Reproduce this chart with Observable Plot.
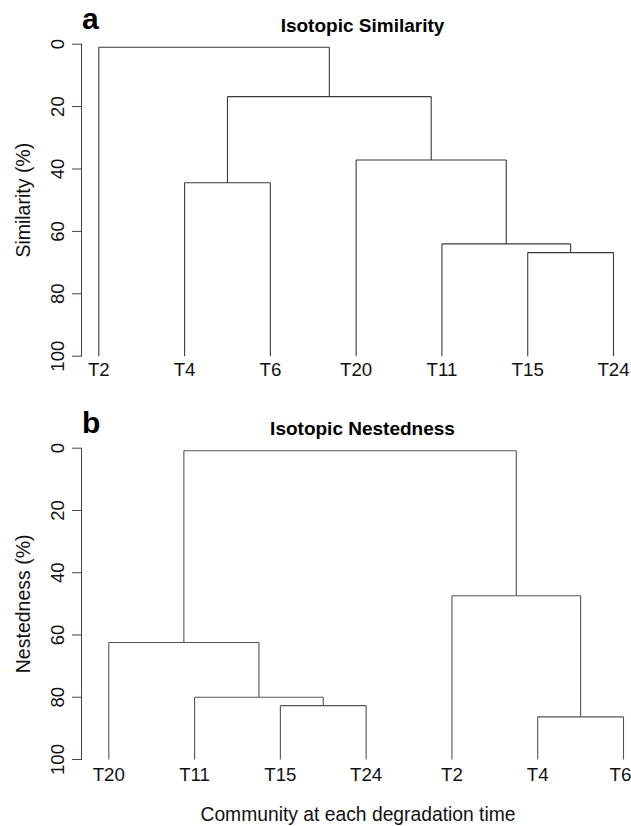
<!DOCTYPE html>
<html>
<head>
<meta charset="utf-8">
<script src="https://cdn.jsdelivr.net/npm/d3@7"></script>
<script src="https://cdn.jsdelivr.net/npm/@observablehq/plot@0.6"></script>
<style>
  html, body { margin: 0; padding: 0; background: #fff; }
  #chart { width: 631px; }
  #chart svg { display: block; }
</style>
</head>
<body>
<div id="chart"></div>
<script>
// ---- Data ----
const yTicks = [0, 20, 40, 60, 80, 100];

// Panel a: Isotopic Similarity
const leavesA = ["T2", "T4", "T6", "T20", "T11", "T15", "T24"];
// merges: [left child, right child, height]; children are leaf names or "m<index>"
const mergesA = [
  ["T15", "T24", 66.8],
  ["T11", "m0", 64.0],
  ["T20", "m1", 37.1],
  ["T4", "T6", 44.4],
  ["m3", "m2", 16.8],
  ["T2", "m4", 1.0]
];

// Panel b: Isotopic Nestedness
const leavesB = ["T20", "T11", "T15", "T24", "T2", "T4", "T6"];
const mergesB = [
  ["T15", "T24", 82.7],
  ["T11", "m0", 80.0],
  ["T20", "m1", 62.4],
  ["T4", "T6", 86.3],
  ["T2", "m3", 47.4],
  ["m2", "m4", 0.8]
];

const leafHeight = 100;

// ---- Build dendrogram segments ----
function segments(leaves, merges) {
  const pos = {};
  leaves.forEach((l, i) => pos[l] = {x: i, h: leafHeight});
  const segs = [];
  merges.forEach(([a, b, h], i) => {
    const A = pos[a], B = pos[b];
    segs.push({x1: A.x, x2: B.x, y1: h, y2: h});
    segs.push({x1: A.x, x2: A.x, y1: h, y2: A.h});
    segs.push({x1: B.x, x2: B.x, y1: h, y2: B.h});
    pos["m" + i] = {x: (A.x + B.x) / 2, h};
  });
  return segs;
}

const FONT = "'Liberation Sans', Arial, Helvetica, sans-serif";

function panel(opts) {
  const {leaves, merges, height, yRange, xRange, letter, title, ylabel, xlabel, stroke, leafDy} = opts;
  const marginLeft = 81, marginRight = 0;
  const marginTop = yRange[0], marginBottom = height - yRange[1];
  const segs = segments(leaves, merges);
  const leafData = leaves.map((name, i) => ({name, i}));
  const last = leafData.length - 1;
  const leafText = (data, dx) => Plot.text(data, {
    x: "i", y: () => leafHeight, text: "name", dy: leafDy, dx,
    lineAnchor: "bottom", textAnchor: "middle", fontSize: 18.7, fill: "#111"
  });
  const marks = [
    Plot.frame({anchor: "left", stroke: "#444"}),
    Plot.axisY({ticks: yTicks, tickSize: 9, tickFormat: () => "", stroke: "#444"}),
    Plot.text(yTicks, {
      y: d => d, text: d => String(d), frameAnchor: "left", dx: -17.5,
      rotate: -90, textAnchor: "middle", lineAnchor: "bottom",
      fontSize: 18.5, fill: "#111"
    }),
    Plot.link(segs, {x1: "x1", x2: "x2", y1: "y1", y2: "y2", stroke, strokeWidth: 1.1}),
    leafText(leafData.slice(0, last), 0),
    leafText(leafData.slice(last), opts.lastLeafDx || 0),
    Plot.text([letter], {
      frameAnchor: "top-left", dx: 0.5, dy: -15.4,
      textAnchor: "start", lineAnchor: "bottom", fontSize: 30, fontWeight: "bold", fill: "#000"
    }),
    Plot.text([title], {
      frameAnchor: "top", dx: 6, dy: opts.titleDy,
      textAnchor: "middle", lineAnchor: "bottom", fontSize: 19, fontWeight: "bold", fill: "#000"
    }),
    Plot.text([ylabel], {
      frameAnchor: "left", dx: -51.5, rotate: -90,
      textAnchor: "middle", lineAnchor: "bottom", fontSize: 19.5, fill: "#111"
    })
  ];
  if (xlabel) {
    marks.push(Plot.text([xlabel], {
      frameAnchor: "bottom", dx: 1.5, dy: opts.xlabelDy,
      textAnchor: "middle", lineAnchor: "bottom", fontSize: 19.3, fill: "#111"
    }));
  }
  return Plot.plot({
    width: 631,
    height,
    marginLeft, marginRight, marginTop, marginBottom,
    style: {fontFamily: FONT, background: "#fff", overflow: "visible"},
    x: {type: "linear", domain: [0, leaves.length - 1], range: xRange, axis: null},
    y: {domain: [0, 100], range: yRange, axis: null},
    marks
  });
}

const chart = document.getElementById("chart");
chart.appendChild(panel({
  leaves: leavesA, merges: mergesA, height: 395,
  yRange: [43.7, 355.7], xRange: [98.3, 613],
  letter: "a", title: "Isotopic Similarity", ylabel: "Similarity (%)",
  stroke: "#3a3a3a", leafDy: 19.5, titleDy: -12.7
}));
chart.appendChild(panel({
  leaves: leavesB, merges: mergesB, height: 431,
  yRange: [52.7, 364], xRange: [108.3, 623],
  letter: "b", title: "Isotopic Nestedness", ylabel: "Nestedness (%)",
  xlabel: "Community at each degradation time",
  stroke: "#555", leafDy: 21, titleDy: -13.7, lastLeafDx: -3,
  xlabelDy: 61
}));
</script>
</body>
</html>
